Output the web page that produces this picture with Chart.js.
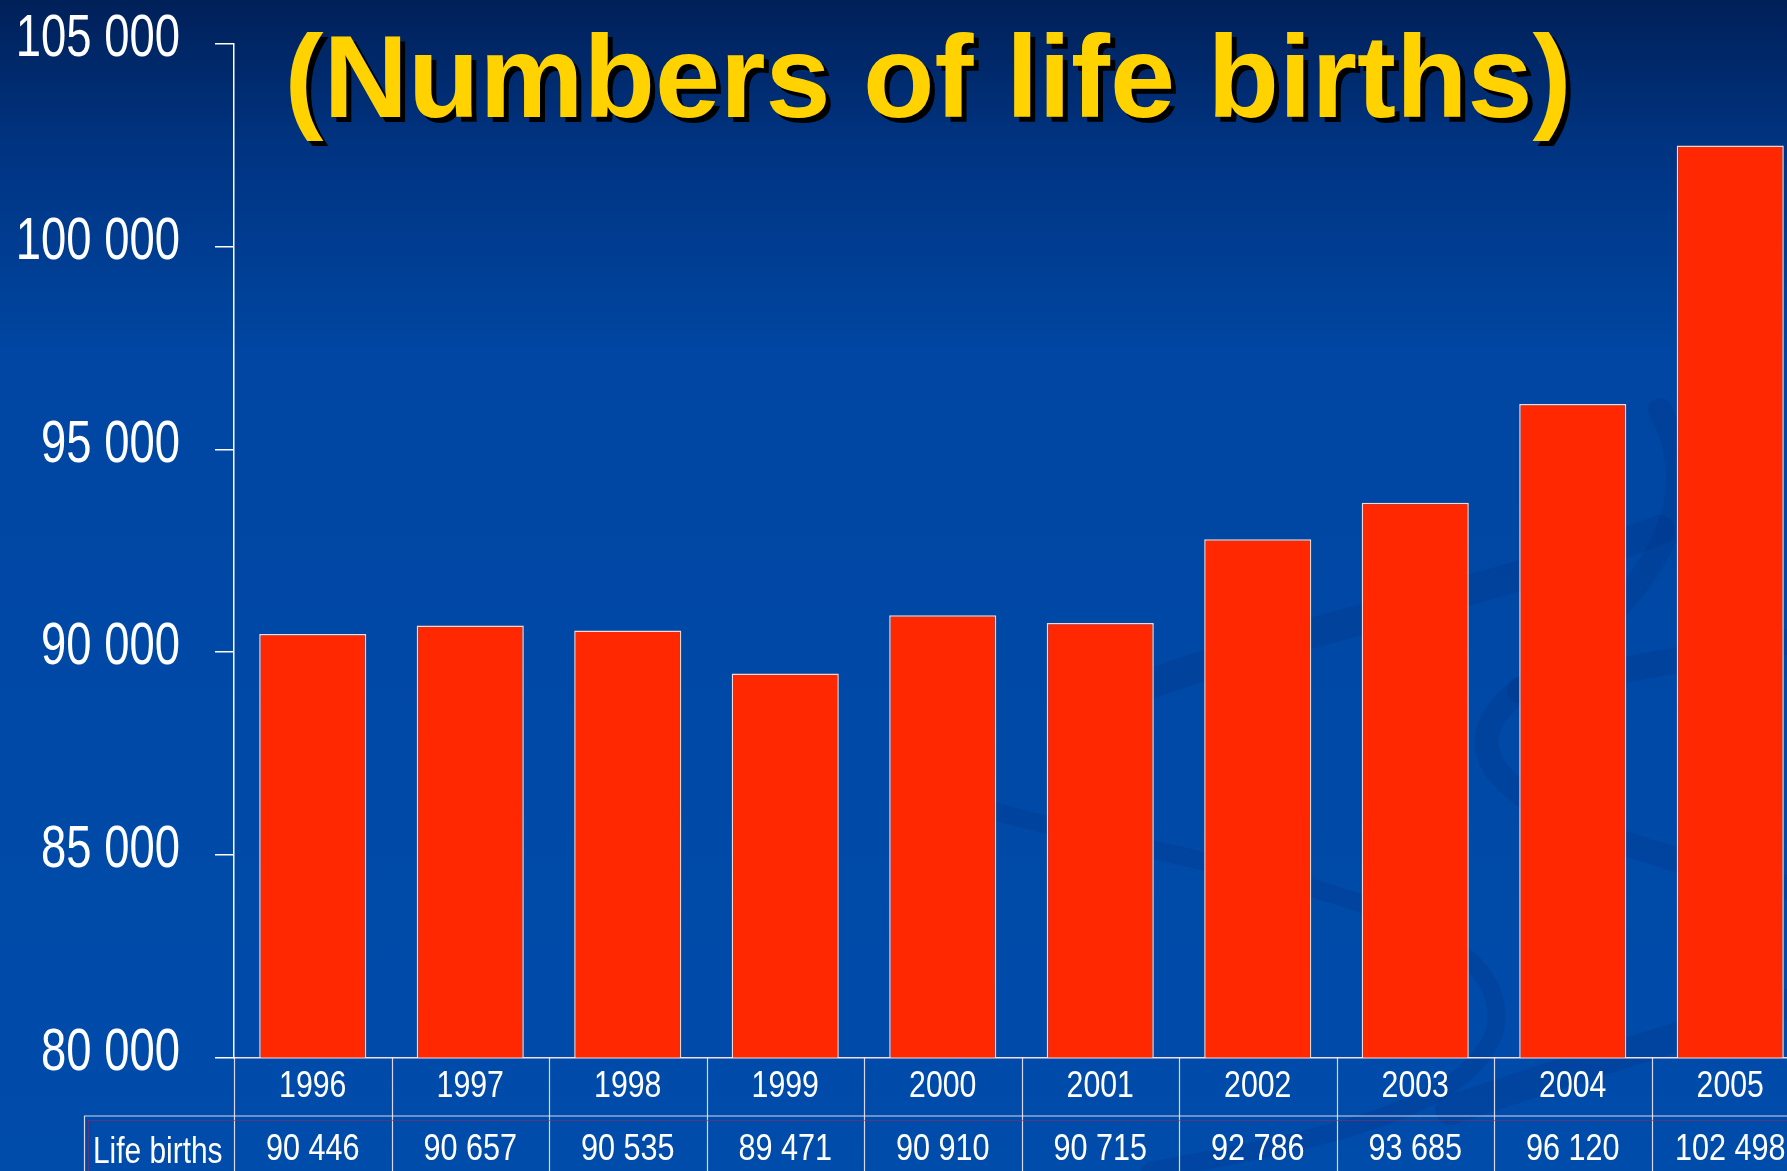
<!DOCTYPE html>
<html><head><meta charset="utf-8">
<script src="https://cdn.jsdelivr.net/npm/chart.js@4.4.1/dist/chart.umd.min.js"></script>
<style>
html,body{margin:0;padding:0;overflow:hidden;background:#0049a8;}
#wrap{width:1809px;height:1171px;}
canvas{display:block;}
</style></head><body>
<div id="wrap"><canvas id="c" width="1809" height="1171"></canvas></div>
<script>
const years = ['1996','1997','1998','1999','2000','2001','2002','2003','2004','2005'];
const lifeBirths = [90446, 90657, 90535, 89471, 90910, 90715, 92786, 93685, 96120, 102498];
const yMin = 80000, yMax = 105000, yStep = 5000;
const titleText = '(Numbers of life births)';
const rowHeader = 'Life births';

const FONT = "'Liberation Sans', Arial, sans-serif";
function fmt(v){ return String(v).replace(/\B(?=(\d{3})+(?!\d))/g, ' '); }

// draws horizontally condensed text (the original uses a narrow face)
function condensed(ctx, text, x, y, sx, align){
  ctx.save();
  ctx.translate(x, y);
  ctx.scale(sx, 1);
  ctx.textAlign = align;
  ctx.fillText(text, 0, 0);
  ctx.restore();
}

const decor = {
  id: 'decor',
  beforeDraw(chart){
    const ctx = chart.ctx, W = chart.width, H = chart.height;
    ctx.save();
    const g = ctx.createLinearGradient(0, 0, 0, H);
    g.addColorStop(0, '#002058');
    g.addColorStop(0.12, '#003380');
    g.addColorStop(0.3, '#0046a2');
    g.addColorStop(1, '#004cab');
    ctx.fillStyle = g;
    ctx.fillRect(0, 0, W, H);
    // faint decorative swirls
    ctx.strokeStyle = 'rgba(0,35,110,0.16)';
    ctx.lineCap = 'round';
    ctx.lineWidth = 30;
    ctx.beginPath();
    ctx.moveTo(1150, 684);
    ctx.bezierCurveTo(1330, 620, 1500, 590, 1660, 530);
    ctx.stroke();
    ctx.lineWidth = 26;
    ctx.beginPath();
    ctx.moveTo(1520, 690);
    ctx.bezierCurveTo(1620, 670, 1700, 655, 1800, 640);
    ctx.stroke();
    ctx.lineWidth = 24;
    ctx.beginPath();
    ctx.moveTo(1660, 410);
    ctx.bezierCurveTo(1720, 520, 1620, 620, 1520, 690);
    ctx.bezierCurveTo(1430, 760, 1520, 830, 1800, 890);
    ctx.stroke();
    ctx.lineWidth = 18;
    ctx.beginPath();
    ctx.moveTo(990, 810);
    ctx.bezierCurveTo(1200, 870, 1520, 900, 1495, 1030);
    ctx.bezierCurveTo(1470, 1110, 1320, 1140, 1150, 1171);
    ctx.stroke();
    ctx.lineWidth = 30;
    ctx.beginPath();
    ctx.moveTo(1450, 1110);
    ctx.bezierCurveTo(1600, 1060, 1700, 1030, 1800, 1000);
    ctx.stroke();
    ctx.restore();
  },
  afterDraw(chart){
    const ctx = chart.ctx, W = chart.width, H = chart.height;
    const xs = chart.scales.x, ys = chart.scales.y, area = chart.chartArea;
    const half = (xs.getPixelForValue(1) - xs.getPixelForValue(0)) / 2;
    const rowY = area.bottom + 58.5;
    ctx.save();
    // table grid
    ctx.strokeStyle = 'rgba(255,240,240,0.85)';
    ctx.lineWidth = 1.2;
    for (let i = 0; i <= years.length; i++) {
      const x = Math.round(xs.getPixelForValue(i) - half) + 0.5;
      ctx.beginPath(); ctx.moveTo(x, area.bottom); ctx.lineTo(x, H); ctx.stroke();
    }
    ctx.beginPath(); ctx.moveTo(84, rowY); ctx.lineTo(W, rowY); ctx.stroke();
    ctx.beginPath(); ctx.moveTo(84.5, rowY); ctx.lineTo(84.5, H); ctx.stroke();
    ctx.strokeStyle = 'rgba(150,40,90,0.55)';
    ctx.lineWidth = 1;
    ctx.beginPath(); ctx.moveTo(88, rowY + 4.5); ctx.lineTo(W, rowY + 4.5); ctx.stroke();
    ctx.beginPath(); ctx.moveTo(88.5, rowY + 4); ctx.lineTo(88.5, H); ctx.stroke();

    ctx.fillStyle = '#ffffff';
    ctx.textBaseline = 'middle';
    // y tick labels from the scale's ticks
    ctx.font = "59px " + FONT;
    ys.ticks.forEach(t => {
      condensed(ctx, fmt(t.value), 180, ys.getPixelForValue(t.value) - 4, 0.77, 'right');
    });
    // x categories + data row
    ctx.font = "36px " + FONT;
    years.forEach((y, i) => {
      const x = xs.getPixelForValue(i);
      condensed(ctx, y, x, area.bottom + 30, 0.84, 'center');
      condensed(ctx, fmt(lifeBirths[i]), x, area.bottom + 93, 0.85, 'center');
    });
    condensed(ctx, rowHeader, 93, area.bottom + 96, 0.83, 'left');

    // title
    ctx.font = "bold 117px " + FONT;
    ctx.textAlign = 'center';
    ctx.textBaseline = 'alphabetic';
    ctx.shadowColor = '#000000';
    ctx.shadowOffsetX = 5;
    ctx.shadowOffsetY = 5;
    ctx.shadowBlur = 0;
    ctx.fillStyle = '#ffd200';
    ctx.fillText(titleText, 928, 117);
    ctx.restore();
  }
};

new Chart(document.getElementById('c'), {
  type: 'bar',
  data: {
    labels: years,
    datasets: [{
      data: lifeBirths,
      backgroundColor: '#ff2800',
      borderColor: 'rgba(255,225,215,0.95)',
      borderWidth: 1.5,
      categoryPercentage: 1,
      barPercentage: 0.68
    }]
  },
  options: {
    responsive: false,
    animation: false,
    devicePixelRatio: 1,
    layout: { padding: { top: 44, left: 0, right: 0, bottom: 0 } },
    plugins: { legend: { display: false }, tooltip: { enabled: false }, title: { display: false } },
    scales: {
      x: {
        grid: { display: false },
        border: { display: true, color: 'rgba(255,230,230,0.95)', width: 1.5 },
        ticks: { display: false },
        afterFit(s) { s.height = 113.5; }
      },
      y: {
        min: yMin, max: yMax,
        ticks: { display: false, stepSize: yStep },
        grid: { drawOnChartArea: false, drawTicks: true, tickLength: 19, color: '#ffffff', lineWidth: 1.5 },
        border: { display: true, color: '#ffffff', width: 1.5 },
        afterFit(s) { s.width = 234; }
      }
    }
  },
  plugins: [decor]
});
</script>
</body></html>
